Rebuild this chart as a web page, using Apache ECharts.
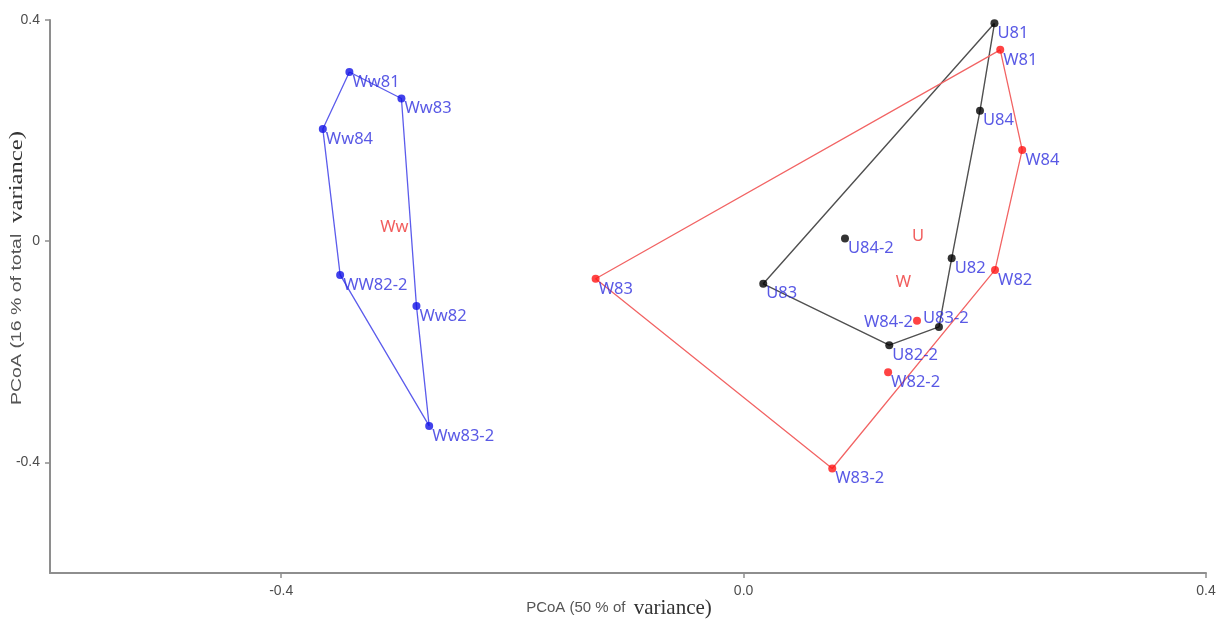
<!DOCTYPE html>
<html>
<head>
<meta charset="utf-8">
<script src="https://cdn.jsdelivr.net/npm/echarts@6/dist/echarts.min.js"></script>
<style>
  html, body { margin: 0; padding: 0; background: #ffffff; }
  #chart { width: 1227px; height: 622px; }
</style>
</head>
<body>
<div id="chart"></div>
<script>
// PCoA sample scores, group Ww
const wwNames = ['Ww81', 'Ww83', 'Ww84', 'WW82-2', 'Ww82', 'Ww83-2'];
const wwX = [-0.341, -0.296, -0.364, -0.349, -0.283, -0.272];
const wwY = [0.306, 0.258, 0.203, -0.061, -0.117, -0.334];
const wwHull = ['Ww81', 'Ww83', 'Ww82', 'Ww83-2', 'WW82-2', 'Ww84', 'Ww81'];

// group U
const uNames = ['U81', 'U84', 'U84-2', 'U82', 'U83', 'U83-2', 'U82-2'];
const uX = [0.217, 0.2045, 0.0877, 0.180, 0.017, 0.169, 0.126];
const uY = [0.394, 0.236, 0.005, -0.031, -0.077, -0.155, -0.188];
const uHull = ['U81', 'U84', 'U82', 'U83-2', 'U82-2', 'U83', 'U81'];

// group W
const wNames = ['W81', 'W84', 'W82', 'W83', 'W84-2', 'W82-2', 'W83-2'];
const wX = [0.222, 0.241, 0.2175, -0.128, 0.150, 0.125, 0.0767];
const wY = [0.346, 0.165, -0.052, -0.068, -0.144, -0.237, -0.411];
const wHull = ['W81', 'W84', 'W82', 'W83-2', 'W83', 'W81'];

// group centroids (labels only)
const groupNames = ['Ww', 'U', 'W'];
const groupX = [-0.317, 0.143, 0.129];
const groupY = [0.043, 0.027, -0.056];

// axis ticks
const xTickValues = [-0.4, 0.0, 0.4];
const xTickLabels = ['-0.4', '0.0', '0.4'];
const yTickValues = [-0.4, 0.0, 0.4];
const yTickLabels = ['-0.4', '0', '0.4'];

const LABEL_FONT = "'Noto Sans', 'Open Sans', sans-serif";
const LABEL_BLUE = '#3030de';
const SANS = "'Liberation Sans', Arial, sans-serif";
const SERIF = "'Liberation Serif', 'Times New Roman', serif";

// label placement tweaks for crowded points
const labelTweaks = {
  'W84-2': { offset: [-4, 1], align: 'right' },
  'U83-2': { offset: [-16, -9], align: 'left' }
};

function pointData(names, xs, ys) {
  return names.map((n, i) => {
    const d = { name: n, value: [xs[i], ys[i]] };
    const t = labelTweaks[n];
    if (t) d.label = { offset: t.offset, align: t.align };
    return d;
  });
}

function hullData(order, names, xs, ys) {
  return order.map(n => {
    const i = names.indexOf(n);
    return [xs[i], ys[i]];
  });
}

function hullSeries(order, names, xs, ys, color, width) {
  return {
    type: 'line',
    data: hullData(order, names, xs, ys),
    symbol: 'none',
    silent: true,
    z: 1,
    lineStyle: { color: color, width: width },
    animation: false
  };
}

function pointSeries(names, xs, ys, color) {
  return {
    type: 'scatter',
    data: pointData(names, xs, ys),
    symbol: 'circle',
    symbolSize: 8,
    z: 3,
    itemStyle: { color: color },
    label: {
      show: true,
      formatter: '{b}',
      position: 'inside',
      align: 'left',
      verticalAlign: 'middle',
      offset: [3, 10],
      color: LABEL_BLUE,
      fontFamily: LABEL_FONT,
      fontSize: 16.5
    },
    animation: false
  };
}

const chart = echarts.init(document.getElementById('chart'), null, { renderer: 'canvas' });

const axisLineStyle = { color: '#8e8e8e', width: 2 };

chart.setOption({
  backgroundColor: '#ffffff',
  grid: { left: 50, right: 21, top: 20, bottom: 49 },
  xAxis: {
    type: 'value',
    min: -0.6,
    max: 0.4,
    axisLine: { show: true, onZero: false, lineStyle: axisLineStyle },
    axisTick: { show: true, length: 5, customValues: xTickValues, lineStyle: { color: '#8e8e8e', width: 1.5 } },
    axisLabel: {
      customValues: xTickValues,
      margin: 11,
      color: '#4d4d4d',
      fontFamily: SANS,
      fontSize: 14,
      formatter: v => xTickLabels[xTickValues.findIndex(t => Math.abs(t - v) < 1e-9)]
    },
    splitLine: { show: false }
  },
  yAxis: {
    type: 'value',
    min: -0.6,
    max: 0.4,
    axisLine: { show: true, onZero: false, lineStyle: axisLineStyle },
    axisTick: { show: true, length: 5, customValues: yTickValues, lineStyle: { color: '#8e8e8e', width: 1.5 } },
    axisLabel: {
      customValues: yTickValues,
      margin: 10,
      color: '#4d4d4d',
      fontFamily: SANS,
      fontSize: 14,
      formatter: v => yTickLabels[yTickValues.findIndex(t => Math.abs(t - v) < 1e-9)]
    },
    splitLine: { show: false }
  },
  graphic: [
    {
      type: 'text',
      x: 619,
      y: 608,
      style: {
        text: '{a|PCoA (50 % of  }{b|variance)}',
        align: 'center',
        verticalAlign: 'middle',
        rich: {
          a: { fontFamily: SANS, fontSize: 15, fill: '#555555', color: '#555555' },
          b: { fontFamily: SERIF, fontSize: 21, fill: '#333333', color: '#333333' }
        }
      }
    },
    {
      // axis title, drawn stretched along its length
      type: 'text',
      x: 17,
      y: 268,
      rotation: Math.PI / 2,
      scaleX: 1.3,
      scaleY: 1,
      style: {
        text: '{a|PCoA (16 % of total  }{b|variance)}',
        align: 'center',
        verticalAlign: 'middle',
        rich: {
          a: { fontFamily: SANS, fontSize: 15, fill: '#555555', color: '#555555' },
          b: { fontFamily: SERIF, fontSize: 19, fill: '#333333', color: '#333333' }
        }
      }
    }
  ],
  series: [
    hullSeries(wwHull, wwNames, wwX, wwY, '#5c5cec', 1.3),
    hullSeries(uHull, uNames, uX, uY, '#505050', 1.4),
    hullSeries(wHull, wNames, wX, wY, '#f26464', 1.3),
    pointSeries(wwNames, wwX, wwY, '#1212e6'),
    pointSeries(uNames, uX, uY, '#000000'),
    pointSeries(wNames, wX, wY, '#ff1414'),
    {
      type: 'scatter',
      data: groupNames.map((n, i) => ({ name: n, value: [groupX[i], groupY[i]] })),
      symbolSize: 0,
      z: 4,
      label: {
        show: true,
        formatter: '{b}',
        position: 'inside',
        align: 'left',
        verticalAlign: 'middle',
        offset: [3, 10],
        color: '#ee3434',
        fontFamily: LABEL_FONT,
        fontSize: 16.5
      },
      animation: false
    }
  ]
});
</script>
</body>
</html>
